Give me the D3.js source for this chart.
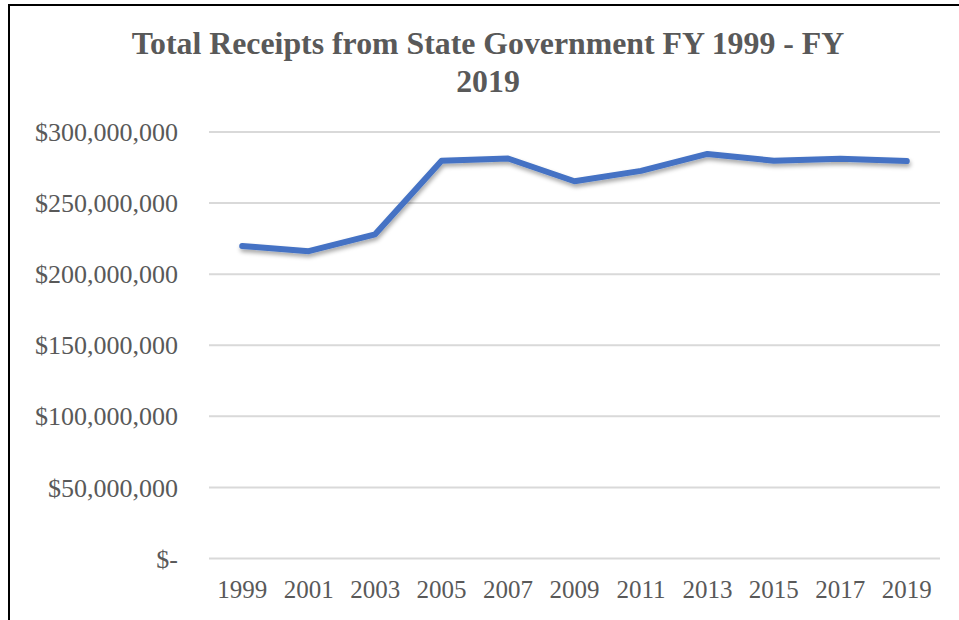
<!DOCTYPE html>
<html>
<head>
<meta charset="utf-8">
<script src="https://cdn.jsdelivr.net/npm/d3@7/dist/d3.min.js"></script>
<style>
  html, body { margin: 0; padding: 0; background: #fff; }
  svg { display: block; }
</style>
</head>
<body>
<svg id="chart" width="959" height="620"></svg>
<script>
// Fiscal years shown on the category axis
const years = ["1999", "2001", "2003", "2005", "2007", "2009", "2011", "2013", "2015", "2017", "2019"];
// Total receipts from state government, dollars
const receipts = [219500000, 215800000, 227700000, 279500000, 281000000, 265000000, 272300000, 284200000, 279500000, 280900000, 279200000];
// Value axis ticks
const yTicks = [0, 50000000, 100000000, 150000000, 200000000, 250000000, 300000000];
const titleLines = ["Total Receipts from State Government FY 1999 - FY", "2019"];

const svg = d3.select("#chart");
const margin = { left: 209, right: 19, top: 131.5, bottom: 62 };
const W = 959, H = 620;
const serif = "'Liberation Serif', 'Times New Roman', serif";

const x = d3.scaleBand().domain(years).range([margin.left, W - margin.right]);
const y = d3.scaleLinear().domain([0, 300000000]).range([H - margin.bottom, margin.top]);

const defs = svg.append("defs");
const f = defs.append("filter").attr("id", "shadow")
  .attr("x", "-10%").attr("y", "-30%").attr("width", "120%").attr("height", "160%");
f.append("feDropShadow").attr("dx", 1).attr("dy", 3).attr("stdDeviation", 2)
  .attr("flood-color", "#000").attr("flood-opacity", 0.35);

// outer frame
svg.append("rect").attr("x", 9).attr("y", 5).attr("width", 1000).attr("height", 700)
  .attr("fill", "none").attr("stroke", "#000").attr("stroke-width", 2);

// title
svg.append("text")
  .attr("x", 488).attr("y", 54)
  .attr("text-anchor", "middle")
  .attr("font-family", serif)
  .attr("font-weight", "bold").attr("font-size", 31.8).attr("fill", "#595959")
  .selectAll("tspan").data(titleLines).join("tspan")
  .attr("x", 488).attr("dy", (d, i) => i === 0 ? 0 : 38).text(d => d);

// value axis with gridlines
const fmt = d => d === 0 ? "$-" : "$" + d3.format(",")(d);
const yAxis = svg.append("g")
  .attr("transform", `translate(${margin.left},0)`)
  .call(d3.axisLeft(y).tickValues(yTicks).tickFormat(fmt)
    .tickSize(-(W - margin.left - margin.right)).tickPadding(31));
yAxis.select(".domain").remove();
yAxis.selectAll(".tick line").attr("stroke", "#d9d9d9").attr("stroke-width", 2);
yAxis.selectAll(".tick text")
  .attr("font-family", serif)
  .attr("font-size", 26).attr("fill", "#595959").attr("dy", "0.35em");

// category axis
const xAxis = svg.append("g")
  .attr("transform", `translate(0,${H - margin.bottom})`)
  .call(d3.axisBottom(x).tickSize(0).tickPadding(22));
xAxis.select(".domain").remove();
xAxis.selectAll(".tick text")
  .attr("font-family", serif)
  .attr("font-size", 25).attr("fill", "#595959").attr("dy", "0.71em");

// series line
const line = d3.line()
  .x((d, i) => x(years[i]) + x.bandwidth() / 2)
  .y(d => y(d));
svg.append("path")
  .datum(receipts)
  .attr("d", line)
  .attr("fill", "none")
  .attr("stroke", "#4472c4")
  .attr("stroke-width", 6)
  .attr("stroke-linejoin", "round")
  .attr("stroke-linecap", "round")
  .attr("filter", "url(#shadow)");
</script>
</body>
</html>
